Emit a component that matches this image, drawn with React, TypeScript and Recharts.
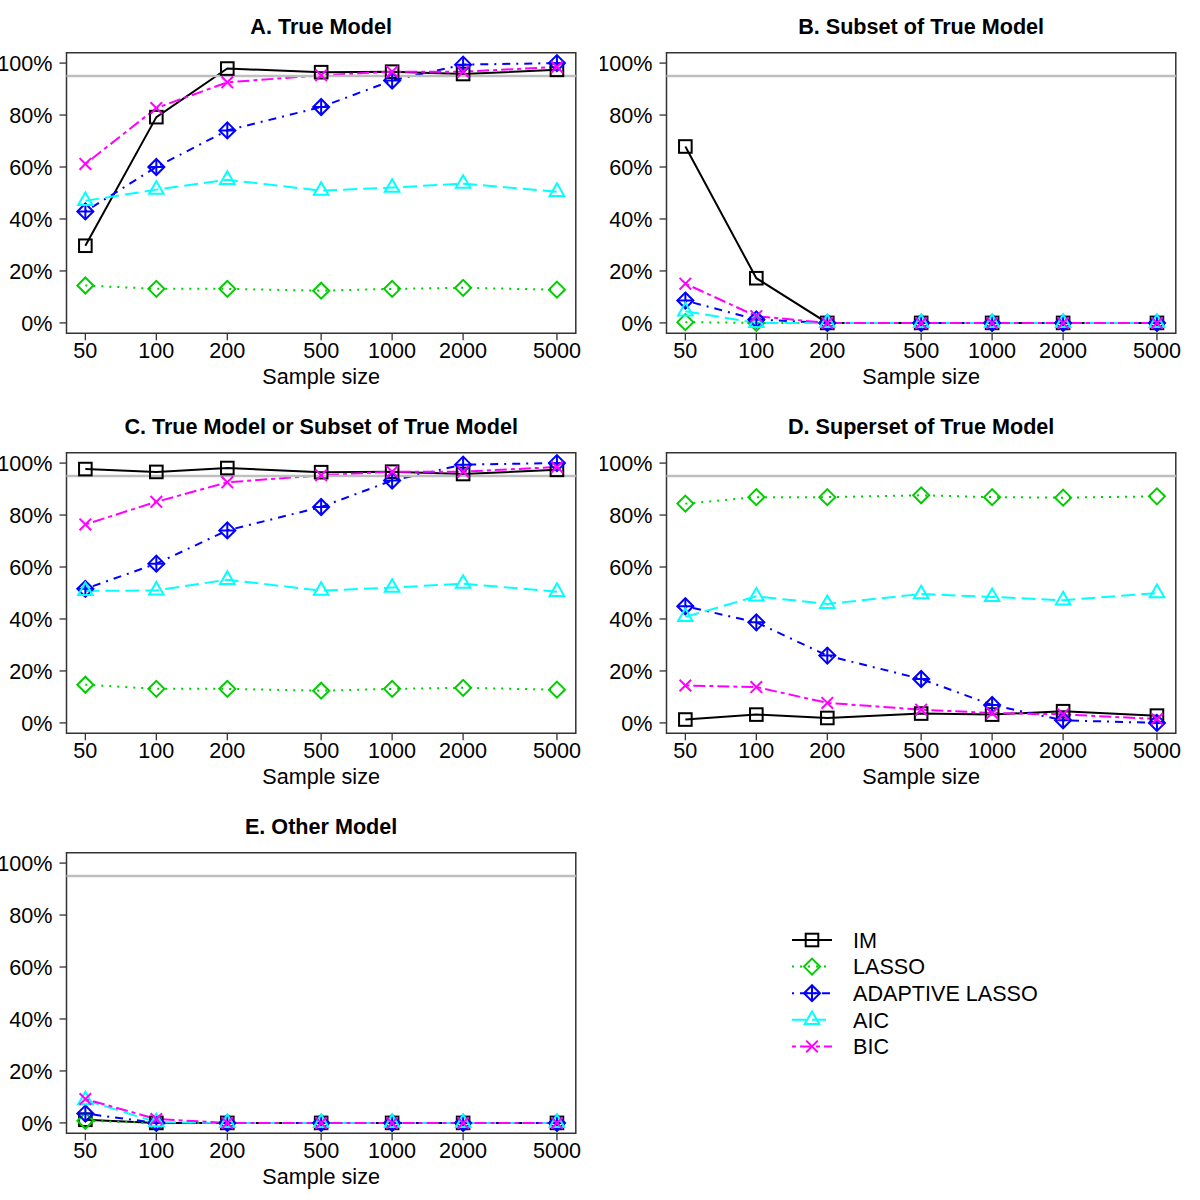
import React from 'react'
import { LineChart, Line, XAxis, YAxis, ReferenceLine, ReferenceArea } from 'recharts'

// sample sizes on the (log) x axis
const SAMPLE_SIZES = [50, 100, 200, 500, 1000, 2000, 5000]
const Y_TICKS = [0, 20, 40, 60, 80, 100]

// A. True Model
const A_IM = [29.7, 79.2, 97.9, 96.5, 96.7, 95.8, 97.4]
const A_LASSO = [14.4, 13.1, 13.1, 12.4, 13.1, 13.5, 12.8]
const A_ADA = [42.9, 60.0, 74.1, 83.1, 93.3, 99.4, 100]
const A_AIC = [47.0, 51.3, 55.1, 50.9, 52.1, 53.6, 50.5]
const A_BIC = [61.2, 82.7, 92.6, 95.3, 96.7, 96.7, 98.5]

// B. Subset of True Model
const B_IM = [67.9, 17.2, 0, 0, 0, 0, 0]
const B_LASSO = [0.3, 0, 0, 0, 0, 0, 0]
const B_ADA = [8.6, 1.3, 0, 0, 0, 0, 0]
const B_AIC = [4.5, 0, 0, 0, 0, 0, 0]
const B_BIC = [15.1, 2.6, 0, 0, 0, 0, 0]

// C. True Model or Subset of True Model
const C_IM = [97.7, 96.6, 98.1, 96.5, 96.7, 95.8, 97.4]
const C_LASSO = [14.7, 13.1, 13.1, 12.4, 13.1, 13.5, 12.8]
const C_ADA = [51.6, 61.3, 74.1, 83.1, 93.3, 99.4, 100]
const C_AIC = [50.8, 51.0, 55.1, 50.9, 52.1, 53.6, 50.5]
const C_BIC = [76.4, 85.1, 92.6, 95.3, 96.7, 96.7, 98.5]

// D. Superset of True Model
const D_IM = [1.3, 3.2, 1.9, 3.6, 3.2, 4.5, 2.8]
const D_LASSO = [84.4, 86.9, 86.9, 87.6, 86.9, 86.7, 87.2]
const D_ADA = [44.9, 38.7, 25.9, 16.9, 6.9, 1.0, 0]
const D_AIC = [40.8, 48.7, 45.8, 49.6, 48.5, 47.2, 50.0]
const D_BIC = [14.4, 13.8, 7.7, 5.1, 3.8, 3.3, 1.5]

// E. Other Model
const E_IM = [1.2, 0, 0, 0, 0, 0, 0]
const E_LASSO = [0.8, 0, 0, 0, 0, 0, 0]
const E_ADA = [3.6, 0, 0, 0, 0, 0, 0]
const E_AIC = [8.8, 0.3, 0, 0, 0, 0, 0]
const E_BIC = [9.2, 1.5, 0, 0, 0, 0, 0]

const FONT = '"Liberation Sans", Arial, Helvetica, sans-serif'
const FS = 21.6
const X_DOMAIN = [41.59, 6011]
const Y_DOMAIN = [-4, 104]

type Shape = 'square' | 'diamond' | 'diamondPlus' | 'triangle' | 'cross'

const SERIES: { key: string; label: string; color: string; dash?: string; shape: Shape }[] = [
  { key: 'im', label: 'IM', color: '#000000', shape: 'square' },
  { key: 'lasso', label: 'LASSO', color: '#00CD00', dash: '2 6', shape: 'diamond' },
  { key: 'ada', label: 'ADAPTIVE LASSO', color: '#0000FF', dash: '2 6 8 6', shape: 'diamondPlus' },
  { key: 'aic', label: 'AIC', color: '#00FFFF', dash: '14 6', shape: 'triangle' },
  { key: 'bic', label: 'BIC', color: '#FF00FF', dash: '4 4 12 4', shape: 'cross' },
]

const PANELS = [
  { title: 'A. True Model', left: 0, top: 0, values: [A_IM, A_LASSO, A_ADA, A_AIC, A_BIC] },
  { title: 'B. Subset of True Model', left: 600, top: 0, values: [B_IM, B_LASSO, B_ADA, B_AIC, B_BIC] },
  { title: 'C. True Model or Subset of True Model', left: 0, top: 400, values: [C_IM, C_LASSO, C_ADA, C_AIC, C_BIC] },
  { title: 'D. Superset of True Model', left: 600, top: 400, values: [D_IM, D_LASSO, D_ADA, D_AIC, D_BIC] },
  { title: 'E. Other Model', left: 0, top: 800, values: [E_IM, E_LASSO, E_ADA, E_AIC, E_BIC] },
]

function Marker({ shape, cx, cy, color }: { shape: Shape; cx: number; cy: number; color: string }) {
  const sw = 2
  if (shape === 'square') {
    return <rect x={cx - 6.3} y={cy - 6.3} width={12.6} height={12.6} fill="none" stroke={color} strokeWidth={sw} />
  }
  if (shape === 'diamond' || shape === 'diamondPlus') {
    const d = 8
    const pts = `${cx},${cy - d} ${cx + d},${cy} ${cx},${cy + d} ${cx - d},${cy}`
    return (
      <g>
        <polygon points={pts} fill="none" stroke={color} strokeWidth={sw} />
        {shape === 'diamondPlus' && (
          <>
            <line x1={cx - d} y1={cy} x2={cx + d} y2={cy} stroke={color} strokeWidth={sw} />
            <line x1={cx} y1={cy - d} x2={cx} y2={cy + d} stroke={color} strokeWidth={sw} />
          </>
        )}
      </g>
    )
  }
  if (shape === 'triangle') {
    const r = 8.4
    const xc = r * 0.866
    const pts = `${cx},${cy - r} ${cx + xc},${cy + r / 2} ${cx - xc},${cy + r / 2}`
    return <polygon points={pts} fill="none" stroke={color} strokeWidth={sw} />
  }
  const h = 5.8
  return (
    <g>
      <line x1={cx - h} y1={cy - h} x2={cx + h} y2={cy + h} stroke={color} strokeWidth={sw} />
      <line x1={cx - h} y1={cy + h} x2={cx + h} y2={cy - h} stroke={color} strokeWidth={sw} />
    </g>
  )
}

const YTick = (props: any) => {
  const { x, y, payload } = props
  return (
    <g>
      <line x1={x - 7} y1={y} x2={x} y2={y} stroke="#333" strokeWidth={1.3} />
      <text x={x - 14} y={y} dy="0.36em" textAnchor="end" fill="#000" fontSize={FS} fontFamily={FONT}>
        {payload.value}%
      </text>
    </g>
  )
}

const XTick = (props: any) => {
  const { x, y, payload } = props
  return (
    <g>
      <line x1={x} y1={y} x2={x} y2={y + 7} stroke="#333" strokeWidth={1.3} />
      <text x={x} y={y + 25} textAnchor="middle" fill="#000" fontSize={FS} fontFamily={FONT}>
        {payload.value}
      </text>
    </g>
  )
}

function Panel({ title, left, top, values }: { title: string; left: number; top: number; values: number[][] }) {
  const data = SAMPLE_SIZES.map((n, i) => {
    const row: Record<string, number> = { n }
    SERIES.forEach((s, j) => { row[s.key] = values[j][i] })
    return row
  })

  const plotLeft = 66.5
  const plotWidth = 509.3

  return (
    <div style={{ position: 'absolute', left, top, width: 600, height: 400 }}>
      <div style={{
        position: 'absolute', left: plotLeft, width: plotWidth, top: 15, textAlign: 'center',
        fontWeight: 'bold', fontSize: FS, lineHeight: '24px', whiteSpace: 'nowrap',
      }}>{title}</div>
      <LineChart
        width={600}
        height={400}
        data={data}
        margin={{ top: 52.7, right: 24.2, bottom: 26.7, left: 6.5 }}
      >
        <XAxis
          dataKey="n"
          type="number"
          scale="log"
          domain={X_DOMAIN}
          allowDataOverflow
          ticks={SAMPLE_SIZES}
          interval={0}
          height={40}
          axisLine={false}
          tickLine={false}
          tickSize={0}
          tickMargin={0}
          tick={<XTick />}
        />
        <YAxis
          type="number"
          domain={Y_DOMAIN}
          allowDataOverflow
          ticks={Y_TICKS}
          interval={0}
          width={60}
          axisLine={false}
          tickLine={false}
          tickSize={0}
          tickMargin={0}
          tick={<YTick />}
        />
        <ReferenceArea
          x1={X_DOMAIN[0]} x2={X_DOMAIN[1]} y1={Y_DOMAIN[0]} y2={Y_DOMAIN[1]}
          fill="none" fillOpacity={0} stroke="#333" strokeWidth={1.5} ifOverflow="visible"
        />
        {SERIES.map(s => (
          <Line
            key={s.key}
            dataKey={s.key}
            type="linear"
            stroke={s.color}
            strokeWidth={2}
            strokeDasharray={s.dash}
            isAnimationActive={false}
            activeDot={false}
            dot={(p: any) => <Marker key={`${s.key}-${p.index}`} shape={s.shape} cx={p.cx} cy={p.cy} color={s.color} />}
          />
        ))}
        <ReferenceLine y={95} stroke="#BEBEBE" strokeWidth={2.5} ifOverflow="visible" />
      </LineChart>
      <div style={{
        position: 'absolute', left: plotLeft, width: plotWidth, top: 365, textAlign: 'center',
        fontSize: FS, lineHeight: '24px',
      }}>Sample size</div>
    </div>
  )
}

function LegendBox() {
  return (
    <svg style={{ position: 'absolute', left: 780, top: 920 }} width={300} height={140}>
      {SERIES.map((s, i) => {
        const y = 20 + i * 26.6
        return (
          <g key={s.key}>
            <line x1={12} y1={y} x2={52} y2={y} stroke={s.color} strokeWidth={2} strokeDasharray={s.dash} />
            <Marker shape={s.shape} cx={32} cy={y} color={s.color} />
            <text x={73} y={y} dy="0.36em" fontSize={FS} fontFamily={FONT} fill="#000">{s.label}</text>
          </g>
        )
      })}
    </svg>
  )
}

export default function App() {
  return (
    <div style={{
      position: 'absolute', left: 0, top: 0, width: 1200, height: 1200,
      background: '#fff', fontFamily: FONT, color: '#000', overflow: 'hidden',
    }}>
      {PANELS.map(p => (
        <Panel key={p.title} title={p.title} left={p.left} top={p.top} values={p.values} />
      ))}
      <LegendBox />
    </div>
  )
}
